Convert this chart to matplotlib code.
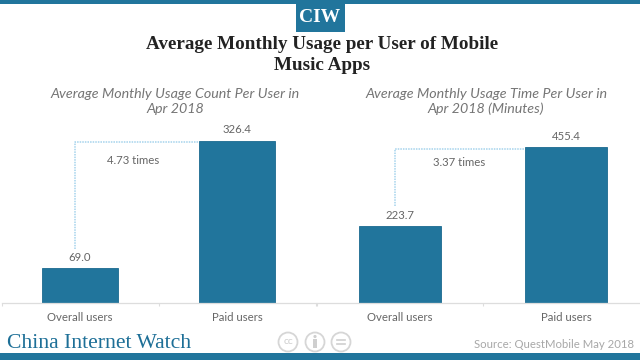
import matplotlib
matplotlib.use('Agg')
import matplotlib.pyplot as plt
from matplotlib.patches import Circle, Rectangle

# Data
categories = ['Overall users', 'Paid users']
count_values = [69.0, 326.4]
time_values = [223.7, 455.4]
count_title = 'Average Monthly Usage Count Per User in\nApr 2018'
time_title = 'Average Monthly Usage Time Per User in\nApr 2018 (Minutes)'
count_ratio = '4.73 times'
time_ratio = '3.37 times'

W, H = 640, 360
BLUE = '#21759c'
GREY = '#666666'
DOT = '#a5d3ec'
SANS = ['Lato', 'DejaVu Sans']
SERIF = ['Liberation Serif', 'DejaVu Serif']

fig = plt.figure(figsize=(W / 100, H / 100), dpi=100, facecolor='white')

# overlay in pixel coordinates for the page furniture
bg = fig.add_axes([0, 0, 1, 1])
bg.set_xlim(0, W)
bg.set_ylim(H, 0)
bg.axis('off')
bg.add_patch(Rectangle((0, 0), W, 4, color=BLUE, lw=0))
bg.add_patch(Rectangle((0, 353), W, 7, color=BLUE, lw=0))
bg.add_patch(Rectangle((296, 0), 48.5, 32, color=BLUE, lw=0))
bg.text(320, 18, 'CIW', color='white', family=SERIF, fontweight='bold', fontsize=14, ha='center', va='center')
bg.text(322, 55, 'Average Monthly Usage per User of Mobile\nMusic Apps', color='#222222',
        family=SERIF, fontweight='bold', fontsize=13.8, ha='center', va='center', linespacing=1.27)
bg.text(7, 343, 'China Internet Watch', color='#1d6f97', family=SERIF, fontsize=15.6,
        ha='left', va='center')
bg.text(634, 344, 'Source: QuestMobile May 2018', color='#a8a8a8', family=SANS, fontsize=8.2,
        ha='right', va='center')

# creative commons icons
for cx in (288, 315, 341):
    bg.add_patch(Circle((cx, 342), 9.5, fc='white', ec='#d6d6d6', lw=1.3))
bg.text(288, 342, 'cc', color='#cfcfcf', family=SANS, fontsize=7.5, ha='center', va='center')
bg.add_patch(Circle((315, 336.5), 1.6, color='#cfcfcf', lw=0))
bg.add_patch(Rectangle((313, 339), 4, 9, color='#cfcfcf', lw=0))
bg.plot([337, 345], [340, 340], color='#cfcfcf', lw=1.2)
bg.plot([337, 345], [344, 344], color='#cfcfcf', lw=1.2)


def draw_panel(x0, x1, top_val, values, title, title_x, ratio, ratio_xy, link_x, link_end, width):
    base, top = 302.7, 120
    ax = fig.add_axes([x0 / W, 1 - base / H, (x1 - x0) / W, (base - top) / H])
    ax.patch.set_alpha(0)
    bars = ax.bar([0, 1], values, width=width, color=BLUE, edgecolor='#1b6a90', lw=0.6)
    ax.set_xlim(-0.5, 1.5)
    ax.set_ylim(0, top_val)
    ax.set_yticks([])
    ax.set_xticks([0, 1], categories)
    ax.set_xticks([-0.5, 0.5, 1.5], minor=True)
    ax.tick_params(axis='x', which='major', length=0, pad=7, labelsize=8.2, labelcolor=GREY)
    ax.tick_params(axis='x', which='minor', length=2.5, width=0.8, color='#dddddd')
    for label in ax.get_xticklabels():
        label.set_family(SANS)
    for side in ('top', 'left', 'right'):
        ax.spines[side].set_visible(False)
    ax.spines['bottom'].set_color('#dddddd')
    ax.spines['bottom'].set_linewidth(0.9)

    for bar, val in zip(bars, values):
        ax.annotate(f'{val:.1f}', (bar.get_x() + bar.get_width() / 2, val), xytext=(0, 8),
                    textcoords='offset points', ha='center', va='center', color=GREY,
                    family=SANS, fontsize=8.2)

    # dotted connector between the two bars
    to_x = lambda px: (px - x0) / (x1 - x0) * 2 - 0.5
    to_y = lambda px: (base - px) / (base - top) * top_val
    left_edge = bars[1].get_x()
    ax.plot([to_x(link_x), to_x(link_x), left_edge],
            [to_y(link_end), values[1] - to_y(base - 1.5), values[1] - to_y(base - 1.5)],
            color=DOT, lw=1.1, ls=(0, (1, 0.7)))
    bg.text(ratio_xy[0], ratio_xy[1], ratio, color=GREY, family=SANS, fontsize=8.2,
            ha='center', va='center')
    bg.text(title_x, 101.5, title, color='#757575', family=SANS, style='italic', fontsize=10.3,
            ha='center', va='center', linespacing=1.25)


draw_panel(1.5, 315.5, 368, count_values, count_title, 175, count_ratio, (133, 161), 75, 249, 0.49)
draw_panel(317, 649, 535, time_values, time_title, 486, time_ratio, (459, 163), 395, 206, 0.495)

fig.savefig('out.png', dpi=100)
